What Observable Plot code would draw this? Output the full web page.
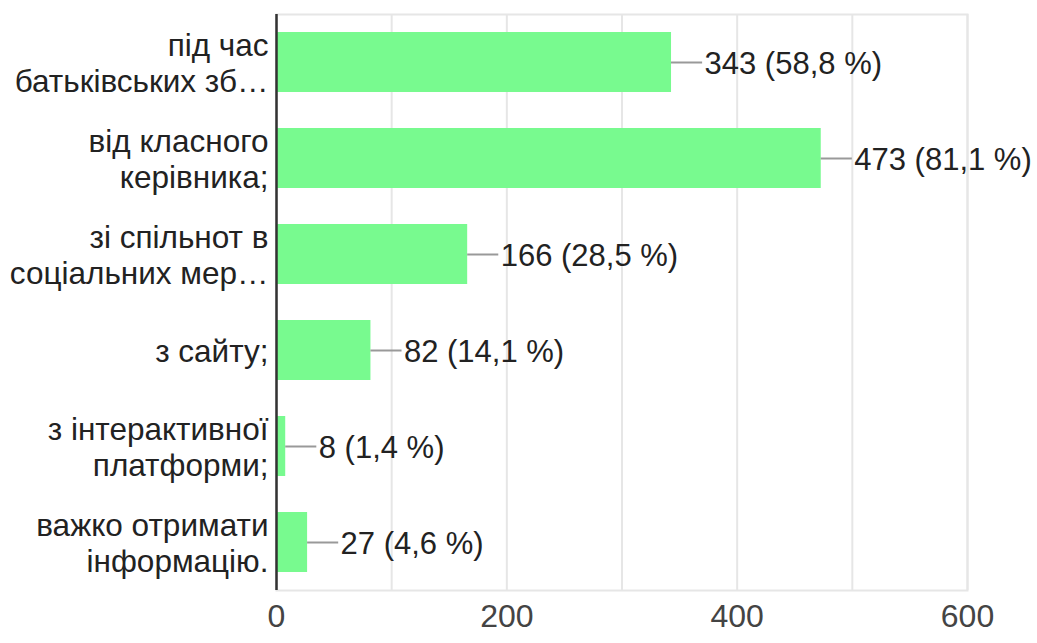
<!DOCTYPE html>
<html>
<head>
<meta charset="utf-8">
<script src="https://cdn.jsdelivr.net/npm/d3@7"></script>
<script src="https://cdn.jsdelivr.net/npm/@observablehq/plot@0.6"></script>
<style>
  html, body { margin: 0; padding: 0; background: #fff; }
  svg { font-family: "Liberation Sans", Arial, sans-serif; }
</style>
</head>
<body>
<div id="chart"></div>
<script>
const categories = [
  "під час\nбатьківських зб…",
  "від класного\nкерівника;",
  "зі спільнот в\nсоціальних мер…",
  "з сайту;",
  "з інтерактивної\nплатформи;",
  "важко отримати\nінформацію."
];
const counts = [343, 473, 166, 82, 8, 27];
const percents = ["58,8", "81,1", "28,5", "14,1", "1,4", "4,6"];
const xTicks = [0, 200, 400, 600];
const gridTicks = [0, 100, 200, 300, 400, 500, 600];

const data = categories.map((c, i) => ({
  category: c,
  value: counts[i],
  label: `${counts[i]} (${percents[i]} %)`
}));

const chart = Plot.plot({
  width: 1037,
  height: 643,
  marginLeft: 276,
  marginRight: 70,
  marginTop: 14,
  marginBottom: 53,
  style: { fontFamily: "Liberation Sans, Arial, sans-serif", background: "#fff" },
  x: { domain: [0, 600] },
  y: { domain: categories, paddingInner: 0.375, paddingOuter: 0.1875, label: null },
  marks: [
    Plot.frame({ stroke: "#e6e6e6", strokeWidth: 2 }),
    Plot.gridX(gridTicks, { stroke: "#e6e6e6", strokeOpacity: 1, strokeWidth: 2 }),
    Plot.barX(data, { x: "value", y: "category", fill: "#78fa8f" }),
    Plot.ruleY(data, { y: "category", x1: "value", x2: d => d.value + 27, stroke: "#999", strokeWidth: 2 }),
    Plot.text(data, { y: "category", x: "value", text: "label", textAnchor: "start", dx: 33, dy: 2, fontSize: 31, fill: "#222" }),
    Plot.ruleX([0], { stroke: "#333", strokeWidth: 2.5 }),
    Plot.axisY({ tickSize: 0, tickPadding: 8, fontSize: 31.5, lineHeight: 1.15, fill: "#222", label: null }),
    Plot.axisX(xTicks, { tickSize: 0, tickPadding: 14, fontSize: 32, fill: "#444", label: null })
  ]
});
document.getElementById("chart").appendChild(chart);
</script>
</body>
</html>
